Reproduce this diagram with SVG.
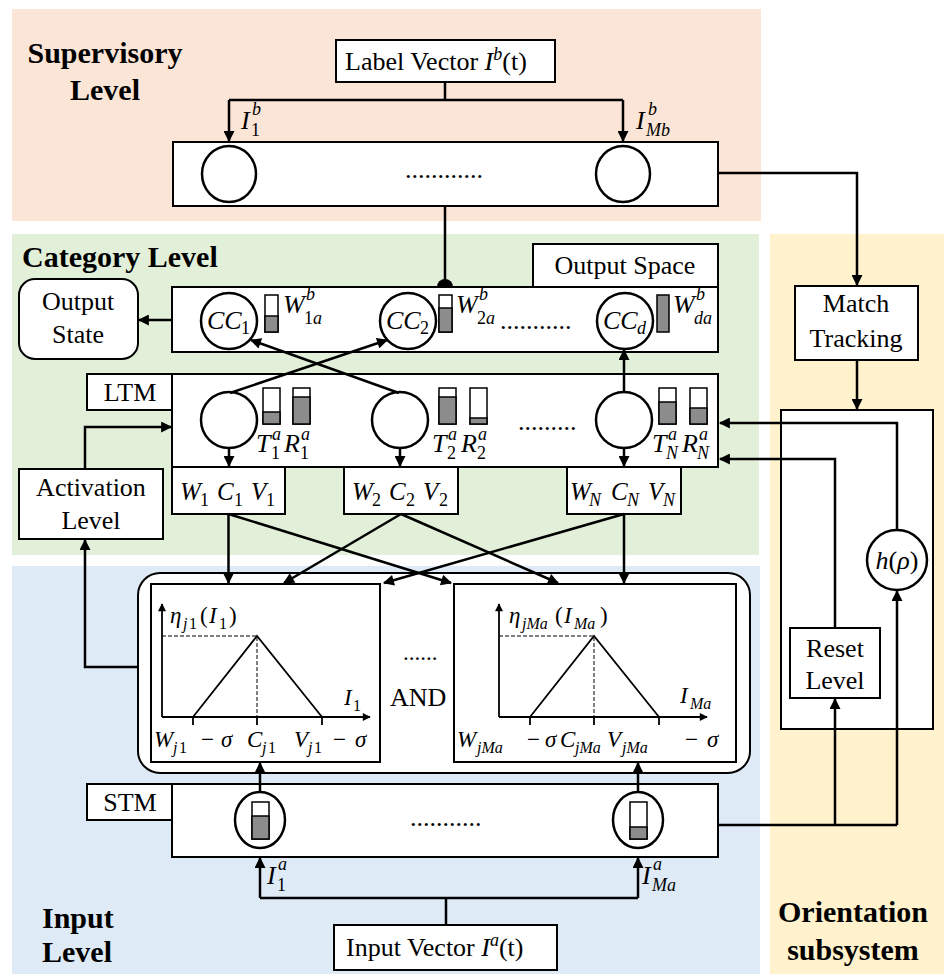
<svg xmlns="http://www.w3.org/2000/svg" width="944" height="974" viewBox="0 0 944 974">
<style>
.t{font-family:"Liberation Serif","Times New Roman",serif;font-size:26px;fill:#000}
.b{font-family:"Liberation Serif","Times New Roman",serif;font-size:30px;font-weight:bold;fill:#000}
.m{font-family:"Liberation Serif","Times New Roman",serif;font-size:26px;font-style:italic;fill:#000}
.w{font-family:"Liberation Serif","Times New Roman",serif;font-size:25px;font-style:italic;fill:#000}
.g{font-family:"Liberation Serif","Times New Roman",serif;font-size:23px;fill:#000}
.si{font-size:18px;font-style:italic}
.sn{font-size:18px;font-style:normal}
.gi{font-style:italic}
.gs{font-size:16px;font-style:italic}
.gn{font-size:16px;font-style:normal}
.box{fill:#fff;stroke:#000;stroke-width:2}
.nd{fill:#fff;stroke:#000;stroke-width:2.5}
.bar{fill:#fff;stroke:#000;stroke-width:1.5}
.gr{fill:#8c8c8c;stroke:#000;stroke-width:1.5}
.ln{fill:none;stroke:#000;stroke-width:2.5}
.ax{fill:none;stroke:#000;stroke-width:1.8}
.da{fill:none;stroke:#000;stroke-width:1;stroke-dasharray:4 2}
.c{text-anchor:middle}
</style>
<defs>
<marker id="ah" viewBox="0 0 10 10" refX="9" refY="5" markerWidth="12" markerHeight="11" markerUnits="userSpaceOnUse" orient="auto"><path d="M0,0 L10,5 L0,10 z" fill="#000"/></marker>
<marker id="sa" viewBox="0 0 10 10" refX="9" refY="5" markerWidth="9" markerHeight="8" markerUnits="userSpaceOnUse" orient="auto"><path d="M0,0 L10,5 L0,10 z" fill="#000"/></marker>
</defs>

<g id="panels">
<rect x="12" y="9" width="749" height="212" fill="#FBE5D6"/>
<rect x="12" y="234" width="747" height="321" fill="#E2F0D9"/>
<rect x="12" y="566" width="748" height="408" fill="#DEEBF7"/>
<rect x="770" y="234" width="174" height="740" fill="#FFF2CC"/>
</g>

<g id="titles">
<text class="b c" x="105" y="63">Supervisory</text>
<text class="b c" x="105" y="100">Level</text>
<text class="b" x="22" y="267">Category Level</text>
<text class="b" x="42" y="928">Input</text>
<text class="b" x="42" y="962">Level</text>
<text class="b c" x="853" y="922">Orientation</text>
<text class="b c" x="853" y="960">subsystem</text>
</g>

<g id="label-vector">
<rect class="box" x="336" y="40" width="219" height="42"/>
<text class="t" x="345" y="70">Label Vector <tspan font-style="italic">I</tspan><tspan class="si" dy="-10">b</tspan><tspan dy="10">(t)</tspan></text>
</g>
<g id="ib-labels">
<text class="m" x="241" y="129">I<tspan class="si" x="252" y="115">b</tspan><tspan class="sn" x="251" y="136">1</tspan></text>
<text class="m" x="636" y="129">I<tspan class="si" x="648" y="115">b</tspan><tspan class="si" x="646" y="136">Mb</tspan></text>
</g>

<g id="supervisory-layer">
<rect class="box" x="173" y="142" width="545" height="64"/>
<ellipse class="nd" cx="229" cy="174" rx="27" ry="28"/>
<ellipse class="nd" cx="623" cy="174" rx="27" ry="28"/>
<text class="t" x="405" y="178">............</text>
</g>

<g id="output-state">
<rect class="box" x="19" y="279" width="119" height="80" rx="16"/>
<text class="t c" x="78" y="310">Output</text>
<text class="t c" x="78" y="343">State</text>
</g>

<g id="output-space">
<rect class="box" x="533" y="244" width="185" height="43"/>
<text class="t c" x="625" y="274">Output Space</text>
<rect class="box" x="172" y="287" width="546" height="65"/>
<circle class="nd" cx="229" cy="321" r="28"/>
<text class="m" x="207" y="329">CC<tspan class="sn" x="241" y="334">1</tspan></text>
<rect class="bar" x="265" y="295" width="13" height="37"/><rect class="gr" x="265" y="316" width="13" height="16"/>
<text class="m" x="283" y="313">W<tspan class="si" x="306" y="300">b</tspan><tspan class="sn" x="304" y="324">1</tspan><tspan class="si">a</tspan></text>
<circle class="nd" cx="408" cy="321" r="28"/>
<text class="m" x="386" y="329">CC<tspan class="sn" x="420" y="334">2</tspan></text>
<rect class="bar" x="439" y="295" width="13" height="37"/><rect class="gr" x="439" y="308" width="13" height="24"/>
<text class="m" x="456" y="313">W<tspan class="si" x="479" y="300">b</tspan><tspan class="sn" x="477" y="324">2</tspan><tspan class="si">a</tspan></text>
<text class="t" x="500" y="329">...........</text>
<circle class="nd" cx="625" cy="321" r="28"/>
<text class="m" x="603" y="329">CC<tspan class="si" x="637" y="334">d</tspan></text>
<rect class="gr" x="657" y="295" width="12" height="37"/>
<text class="m" x="673" y="313">W<tspan class="si" x="696" y="300">b</tspan><tspan class="si" x="694" y="324">da</tspan></text>
</g>

<g id="ltm">
<rect class="box" x="87" y="374" width="85" height="36"/>
<text class="t c" x="130" y="401">LTM</text>
<rect class="box" x="172" y="374" width="546" height="93"/>
<circle class="nd" cx="229" cy="420" r="28"/>
<circle class="nd" cx="400" cy="420" r="28"/>
<circle class="nd" cx="624" cy="420" r="28"/>
<rect class="bar" x="263" y="388" width="17" height="36"/><rect class="gr" x="263" y="412" width="17" height="12"/>
<rect class="bar" x="293" y="388" width="17" height="36"/><rect class="gr" x="293" y="397" width="17" height="27"/>
<rect class="bar" x="439" y="388" width="17" height="36"/><rect class="gr" x="439" y="397" width="17" height="27"/>
<rect class="bar" x="470" y="388" width="17" height="36"/><rect class="gr" x="470" y="418" width="17" height="6"/>
<rect class="bar" x="659" y="388" width="17" height="36"/><rect class="gr" x="659" y="402" width="17" height="22"/>
<rect class="bar" x="690" y="388" width="17" height="36"/><rect class="gr" x="690" y="408" width="17" height="16"/>
<text class="m" x="256" y="452">T<tspan class="si" x="272" y="440">a</tspan><tspan class="sn" x="271" y="459">1</tspan><tspan x="284" y="452">R</tspan><tspan class="si" x="301" y="440">a</tspan><tspan class="sn" x="300" y="459">1</tspan></text>
<text class="m" x="432" y="452">T<tspan class="si" x="448" y="440">a</tspan><tspan class="sn" x="447" y="459">2</tspan><tspan x="461" y="452">R</tspan><tspan class="si" x="478" y="440">a</tspan><tspan class="sn" x="477" y="459">2</tspan></text>
<text class="m" x="652" y="452">T<tspan class="si" x="668" y="440">a</tspan><tspan class="si" x="666" y="459">N</tspan><tspan x="682" y="452">R</tspan><tspan class="si" x="699" y="440">a</tspan><tspan class="si" x="697" y="459">N</tspan></text>
<text class="t" x="518" y="430">.........</text>
</g>

<g id="weights">
<rect class="box" x="172" y="467" width="113" height="47"/>
<text class="w" x="180" y="500">W<tspan class="sn" x="200" y="506">1</tspan><tspan x="217" y="500">C</tspan><tspan class="sn" x="234" y="506">1</tspan><tspan x="251" y="500">V</tspan><tspan class="sn" x="266" y="506">1</tspan></text>
<rect class="box" x="344" y="467" width="114" height="47"/>
<text class="w" x="352" y="500">W<tspan class="sn" x="372" y="506">2</tspan><tspan x="389" y="500">C</tspan><tspan class="sn" x="406" y="506">2</tspan><tspan x="423" y="500">V</tspan><tspan class="sn" x="439" y="506">2</tspan></text>
<rect class="box" x="567" y="467" width="114" height="47"/>
<text class="w" x="570" y="500">W<tspan class="si" x="589" y="506">N</tspan><tspan x="611" y="500">C</tspan><tspan class="si" x="627" y="506">N</tspan><tspan x="648" y="500">V</tspan><tspan class="si" x="663" y="506">N</tspan></text>
</g>

<g id="activation-level">
<rect class="box" x="19" y="469" width="144" height="70"/>
<text class="t c" x="91" y="496">Activation</text>
<text class="t c" x="91" y="529">Level</text>
</g>

<g id="membership">
<rect class="box" x="138" y="573" width="612" height="200" rx="22"/>
<rect class="box" x="151" y="584" width="229" height="178"/>
<rect class="box" x="454" y="584" width="282" height="178"/>
<path class="ax" d="M162,717 V604" marker-end="url(#sa)"/>
<path class="ax" d="M162,717 H370" marker-end="url(#sa)"/>
<path class="da" d="M162,636 H257 V717"/>
<path class="ax" d="M193,717 L257,636 L322,717 M193,717 V725 M257,717 V725 M322,717 V725"/>
<text class="g" x="170" y="623"><tspan class="gi">η</tspan><tspan class="gs" x="183" y="629">j</tspan><tspan class="gn" x="189" y="629">1</tspan><tspan x="200" y="623">(</tspan><tspan class="gi" x="209" y="623">I</tspan><tspan class="gn" x="219" y="629">1</tspan><tspan x="229" y="623">)</tspan></text>
<text class="g" x="344" y="705"><tspan class="gi">I</tspan><tspan class="gn" x="353" y="711">1</tspan></text>
<text class="g" x="154" y="747"><tspan class="gi">W</tspan><tspan class="gs" x="173" y="753">j</tspan><tspan class="gn" x="179" y="753">1</tspan><tspan x="201" y="747">−</tspan><tspan class="gi" x="221" y="747">σ</tspan><tspan class="gi" x="247" y="747">C</tspan><tspan class="gs" x="262" y="753">j</tspan><tspan class="gn" x="268" y="753">1</tspan><tspan class="gi" x="294" y="747">V</tspan><tspan class="gs" x="308" y="753">j</tspan><tspan class="gn" x="314" y="753">1</tspan><tspan x="333" y="747">−</tspan><tspan class="gi" x="355" y="747">σ</tspan></text>
<text class="g" x="403" y="660">......</text>
<text class="t" x="390" y="706">AND</text>
<path class="ax" d="M499,717 V604" marker-end="url(#sa)"/>
<path class="ax" d="M499,717 H707" marker-end="url(#sa)"/>
<path class="da" d="M499,636 H594 V717"/>
<path class="ax" d="M530,717 L594,636 L659,717 M530,717 V725 M594,717 V725 M659,717 V725"/>
<text class="g" x="509" y="623"><tspan class="gi">η</tspan><tspan class="gs" x="522" y="629">jMa</tspan><tspan x="555" y="623">(</tspan><tspan class="gi" x="564" y="623">I</tspan><tspan class="gs" x="574" y="629">Ma</tspan><tspan x="600" y="623">)</tspan></text>
<text class="g" x="680" y="703"><tspan class="gi">I</tspan><tspan class="gs" x="690" y="709">Ma</tspan></text>
<text class="g" x="457" y="747"><tspan class="gi">W</tspan><tspan class="gs" x="477" y="753">jMa</tspan><tspan x="527" y="747">−</tspan><tspan class="gi" x="545" y="747">σ</tspan><tspan class="gi" x="560" y="747">C</tspan><tspan class="gs" x="575" y="753">jMa</tspan><tspan class="gi" x="607" y="747">V</tspan><tspan class="gs" x="622" y="753">jMa</tspan><tspan x="685" y="747">−</tspan><tspan class="gi" x="707" y="747">σ</tspan></text>
</g>

<g id="stm">
<rect class="box" x="87" y="784" width="85" height="36"/>
<text class="t c" x="130" y="811">STM</text>
<rect class="box" x="172" y="784" width="546" height="73"/>
<ellipse class="nd" cx="260" cy="820" rx="25" ry="28"/>
<rect class="bar" x="252" y="802" width="17" height="37"/><rect class="gr" x="252" y="816" width="17" height="23"/>
<ellipse class="nd" cx="638" cy="820" rx="25" ry="28"/>
<rect class="bar" x="630" y="802" width="17" height="37"/><rect class="gr" x="630" y="827" width="17" height="12"/>
<text class="t" x="410" y="826">...........</text>
</g>
<g id="ia-labels">
<text class="m" x="267" y="884">I<tspan class="si" x="278" y="870">a</tspan><tspan class="sn" x="277" y="891">1</tspan></text>
<text class="m" x="642" y="884">I<tspan class="si" x="653" y="870">a</tspan><tspan class="si" x="652" y="891">Ma</tspan></text>
</g>

<g id="input-vector">
<rect class="box" x="334" y="925" width="223" height="45"/>
<text class="t" x="346" y="956">Input Vector <tspan font-style="italic">I</tspan><tspan class="si" dy="-10">a</tspan><tspan dy="10">(t)</tspan></text>
</g>

<g id="match-tracking">
<rect class="box" x="795" y="286" width="123" height="74"/>
<text class="t c" x="856" y="312">Match</text>
<text class="t c" x="856" y="347">Tracking</text>
</g>

<g id="orientation-box">
<rect class="box" x="781" y="410" width="152" height="319"/>
</g>
<g id="reset-level">
<rect class="box" x="790" y="628" width="90" height="70"/>
<text class="t c" x="835" y="657">Reset</text>
<text class="t c" x="835" y="689">Level</text>
</g>

<g id="connectors">
<path class="ln" d="M445,82 V100 M229,100 H623"/>
<path class="ln" d="M229,100 V141" marker-end="url(#ah)"/>
<path class="ln" d="M623,100 V141" marker-end="url(#ah)"/>
<path class="ln" d="M445,206 V285"/>
<path d="M437,287 A8,8 0 0 1 453,287 Z" fill="#000"/>
<path class="ln" d="M718,173 H857 V285" marker-end="url(#ah)"/>
<path class="ln" d="M857,360 V409" marker-end="url(#ah)"/>
<path class="ln" d="M172,320 H139" marker-end="url(#ah)"/>
<path class="ln" d="M230,393 L387,340" marker-end="url(#ah)"/>
<path class="ln" d="M399,393 L251,340" marker-end="url(#ah)"/>
<path class="ln" d="M624,392 V350" marker-end="url(#ah)"/>
<path class="ln" d="M229,448 V466" marker-end="url(#ah)"/>
<path class="ln" d="M400,448 V466" marker-end="url(#ah)"/>
<path class="ln" d="M624,448 V466" marker-end="url(#ah)"/>
<path class="ln" d="M85,469 V427 H171" marker-end="url(#ah)"/>
<path class="ln" d="M138,667 H85 V540" marker-end="url(#ah)"/>
<path class="ln" d="M228.5,514 V583" marker-end="url(#ah)"/>
<path class="ln" d="M228.5,514 L451,583" marker-end="url(#ah)"/>
<path class="ln" d="M401,514 L284,583" marker-end="url(#ah)"/>
<path class="ln" d="M401,514 L558,583" marker-end="url(#ah)"/>
<path class="ln" d="M624,514 L384,583" marker-end="url(#ah)"/>
<path class="ln" d="M624,514 V583" marker-end="url(#ah)"/>
<path class="ln" d="M260,792 V763" marker-end="url(#ah)"/>
<path class="ln" d="M638,792 V763" marker-end="url(#ah)"/>
<path class="ln" d="M446,925 V898 M260,898 H638"/>
<path class="ln" d="M260,898 V858" marker-end="url(#ah)"/>
<path class="ln" d="M638,898 V858" marker-end="url(#ah)"/>
<path class="ln" d="M718,825 H897"/>
<path class="ln" d="M835,825 V699" marker-end="url(#ah)"/>
<path class="ln" d="M897,825 V591" marker-end="url(#ah)"/>
<path class="ln" d="M897,530 V423 H720" marker-end="url(#ah)"/>
<path class="ln" d="M835,628 V459 H720" marker-end="url(#ah)"/>
</g>

<g id="h-rho">
<circle class="nd" cx="897" cy="560" r="30"/>
<text class="m c" x="897" y="569">h<tspan font-style="normal">(</tspan>ρ<tspan font-style="normal">)</tspan></text>
</g>
</svg>
